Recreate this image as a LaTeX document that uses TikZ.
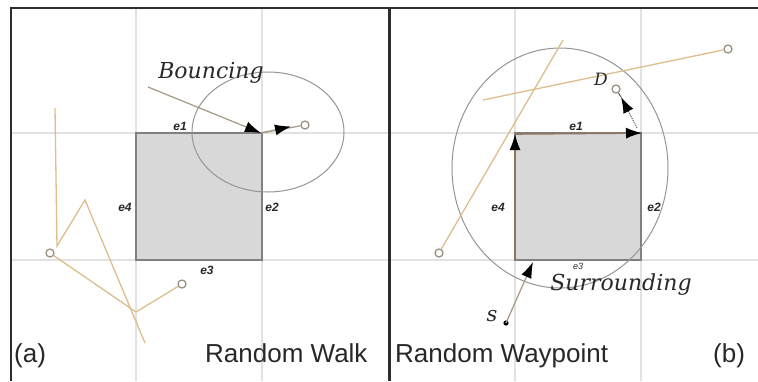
\documentclass[tikz,border=0pt]{standalone}
\usepackage{fontspec}
\setmainfont{Liberation Sans}
\newfontfamily\itserif{DejaVu Serif}
\usetikzlibrary{arrows.meta}
\definecolor{tanc}{RGB}{222,190,140}
\definecolor{gridc}{RGB}{226,226,226}
\definecolor{boxfill}{RGB}{216,216,216}
\definecolor{boxline}{RGB}{128,128,128}
\definecolor{framec}{RGB}{45,45,45}
\definecolor{brownl}{RGB}{150,112,82}
\definecolor{rangec}{RGB}{150,150,150}
\definecolor{textc}{RGB}{40,40,40}
\begin{document}
\begin{tikzpicture}[x=1pt,y=-1pt,
  gridline/.style={draw=gridc,line width=1.6pt},
  obstacle/.style={fill=boxfill,draw=boxline,line width=1.4pt,minimum width=126pt,minimum height=127pt,anchor=north west,inner sep=0pt,outer sep=0pt},
  walk/.style={draw=tanc,line width=1.3pt},
  wp/.style={circle,draw=gray!70!tanc,line width=1.3pt,fill=white,minimum size=8pt,inner sep=0pt},
  rangeline/.style={draw=rangec,line width=1pt},
  arr/.style={-{Latex[length=16pt,width=11pt,color=black]}},
  elab/.style={font=\fontsize{12}{12}\selectfont\bfseries\itshape,inner sep=0pt,text=textc},
  big/.style={font=\fontsize{26}{26}\selectfont,inner sep=0pt,anchor=base west,text=textc},
  scripttext/.style={font=\itserif\itshape\fontsize{22}{22}\selectfont,inner sep=0pt,anchor=base,text=textc}]

\useasboundingbox (0,0) rectangle (758,381);
\fill[white] (0,0) rectangle (758,381);

% grid lines
\draw[gridline] (136,9) -- (136,381) (262,9) -- (262,381)
                (12,133) -- (388,133) (12,260) -- (388,260);
\draw[gridline] (515,9) -- (515,381) (641,9) -- (641,381)
                (390,133) -- (758,133) (390,260) -- (758,260);

% frame
\draw[framec,line width=2.6pt] (11,381) -- (11,8) -- (758,8);
\draw[framec,line width=3pt] (389,8) -- (389,381);

% ================= (a) Random Walk =================
\node[obstacle] (boxa) at (136,133) {};
\draw[rangeline] (268,132) ellipse [x radius=76, y radius=60];

% bouncing trajectory
\coordinate (b0) at (148,87);
\coordinate (b1) at (261,133);
\coordinate (b2) at (291,126.5);
\node[wp] (c1) at (305,125) {};
\draw[arr,draw=gray!60!tanc,line width=1.2pt] (b0) -- (b1);
\draw[draw=gray!60!tanc,line width=1.2pt] (b1) -- (c1);
\draw[arr,draw=gray!60!tanc,line width=1.2pt] (b1) -- (b2);

% random walk polyline
\node[wp] (c2) at (50,253) {};
\node[wp] (c3) at (182,284) {};
\coordinate (r0) at (55,108);
\coordinate (rj) at (57,246);
\coordinate (rp) at (85,200);
\coordinate (rq) at (145,343);
\coordinate (rk) at (136,312);
\draw[walk] (r0) -- (rj) -- (rp) -- (rq);
\draw[walk] (c2) -- (rk) -- (c3);

% labels
\node[elab] (e1a) at (180,126) {e1};
\node[elab] (e2a) at (272,207) {e2};
\node[elab] (e3a) at (207,270) {e3};
\node[elab] (e4a) at (125,207) {e4};
\node[scripttext] (bounce) at (211,78) {Bouncing};
\node[big] (la) at (14,362) {(a)};
\node[big] (rw) at (205,362) {Random Walk};

% ================= (b) Random Waypoint =================
\node[obstacle] (boxb) at (515,133) {};
\draw[rangeline] (560,168) ellipse [x radius=108, y radius=120];

\node[wp] (c4) at (439,253) {};
\node[wp] (c5) at (728,49) {};
\node[wp] (cd) at (616,89) {};
\coordinate (w0) at (563,40);
\coordinate (w1) at (483,100);
\draw[walk] (w0) -- (c4);
\draw[walk] (w1) -- (c5);

% surrounding path
\coordinate (s0) at (506,323);
\coordinate (sc) at (533,262);
\coordinate (bl) at (515,260);
\coordinate (tl) at (515,134);
\coordinate (tr) at (642,133);
\coordinate (tr2) at (637,128);
\coordinate (dt) at (621,97);
\fill[black] (s0) circle (2.6);
\draw[arr,draw=gray!60!tanc,line width=1.2pt] (s0) -- (sc);
\draw[arr,draw=brownl,line width=1.6pt] (bl) -- (tl);
\draw[arr,draw=gray!40!brownl,line width=1.6pt] (tl) -- (tr);
\draw[arr,draw=gray!70!black,line width=1pt,densely dotted] (tr2) -- (dt);
\draw[draw=gray!70!black,line width=1pt] (dt) -- (cd);

\node[elab] (e1b) at (576,126) {e1};
\node[elab] (e2b) at (654,207) {e2};
\node[elab,font=\fontsize{9}{9}\selectfont\itshape] (e3b) at (578,266) {e3};
\node[elab] (e4b) at (498,207) {e4};
\node[scripttext] (surr) at (621,290) {Surrounding};
\node[scripttext,font=\itserif\itshape\fontsize{17}{17}\selectfont] (dl) at (601,85) {D};
\node[scripttext,font=\itserif\itshape\fontsize{21}{21}\selectfont] (sl) at (492,321) {s};
\node[big] (rwp) at (395,362) {Random Waypoint};
\node[big] (lb) at (713,362) {(b)};
\end{tikzpicture}
\end{document}
